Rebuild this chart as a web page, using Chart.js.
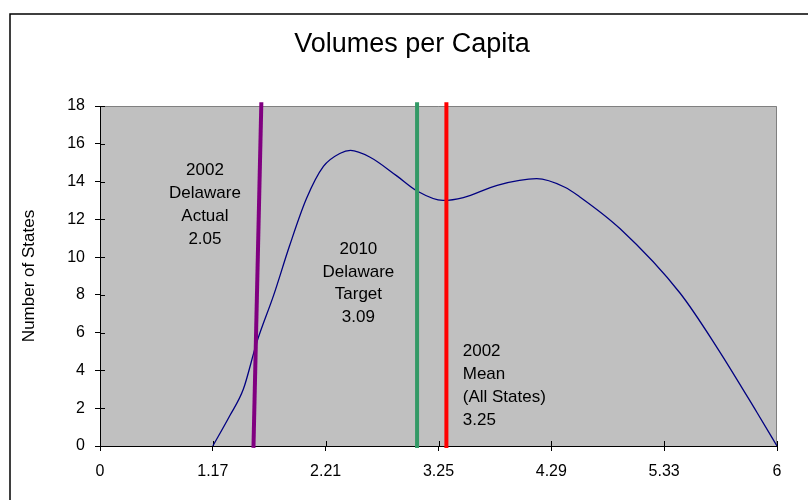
<!DOCTYPE html>
<html>
<head>
<meta charset="utf-8">
<script src="https://cdn.jsdelivr.net/npm/chart.js@4/dist/chart.umd.min.js"></script>
<style>
  body { margin: 0; background: #fff; }
  #wrap { width: 808px; height: 500px; position: relative; }
</style>
</head>
<body>
<div id="wrap"><canvas id="volChart"></canvas></div>
<script>
// x axis: evenly spaced ticks, labelled with the original bin values
const xTickPos = [0, 1, 2, 3, 4, 5, 6];
const xTickLabels = ['0', '1.17', '2.21', '3.25', '4.29', '5.33', '6'];

// distribution curve (number of states)
const curveX = [1.0, 1.15, 1.27, 1.39, 1.54, 1.68, 1.83, 1.98, 2.13, 2.22, 2.39, 2.63, 2.81, 3.04, 3.22, 3.52, 3.87, 4.12, 4.25, 4.61, 5.14, 5.47, 5.82, 6.0];
const curveY = [0, 1.6, 3.0, 5.5, 8.0, 10.6, 13.1, 14.8, 15.5, 15.65, 15.3, 14.3, 13.5, 13.0, 13.15, 13.8, 14.15, 13.7, 13.2, 11.5, 8.1, 5.2, 1.8, 0];

// marker lines (bottom x, top x)
const actualLineX = [1.36, 1.43];
const targetLineX = [2.81, 2.81];
const meanLineX = [3.07, 3.07];
const markerYRange = [-0.1, 18.2];

// text notes next to the marker lines
const notes = [
  { lines: ['2002', 'Delaware', 'Actual', '2.05'], x: 0.93, y: 14.57, align: 'center' },
  { lines: ['2010', 'Delaware', 'Target', '3.09'], x: 2.29, y: 10.42, align: 'center' },
  { lines: ['2002', 'Mean', '(All States)', '3.25'], x: 3.215, y: 4.99, align: 'left' }
];

const FONT = '"Liberation Sans", Arial, sans-serif';
Chart.defaults.font.family = FONT;
Chart.defaults.color = '#000';

function markerData(xs) {
  return [{ x: xs[0], y: markerYRange[0] }, { x: xs[1], y: markerYRange[1] }];
}

// frame, grey plot area, title, inner tick marks and notes
const decor = {
  id: 'decor',
  beforeDraw(chart) {
    const { ctx, chartArea: a } = chart;
    ctx.save();
    ctx.fillStyle = '#fff';
    ctx.fillRect(0, 0, chart.width, chart.height);
    ctx.strokeStyle = '#000';
    ctx.lineWidth = 1.5;
    ctx.strokeRect(10, 14, 900, 600);
    ctx.fillStyle = '#C0C0C0';
    ctx.fillRect(a.left, a.top, a.right - a.left, a.bottom - a.top);
    ctx.strokeStyle = '#808080';
    ctx.lineWidth = 1;
    ctx.beginPath();
    ctx.moveTo(a.left, a.top + 0.5);
    ctx.lineTo(a.right - 0.5, a.top + 0.5);
    ctx.lineTo(a.right - 0.5, a.bottom);
    ctx.stroke();
    ctx.fillStyle = '#000';
    ctx.font = '27px ' + FONT;
    ctx.textAlign = 'center';
    ctx.textBaseline = 'middle';
    ctx.fillText('Volumes per Capita', 412, 45);
    ctx.restore();
  },
  beforeDatasetsDraw(chart) {
    const { ctx, chartArea: a, scales } = chart;
    ctx.save();
    ctx.strokeStyle = '#000';
    ctx.lineWidth = 1;
    ctx.beginPath();
    scales.x.ticks.forEach(t => {
      const px = Math.round(scales.x.getPixelForValue(t.value)) + 0.5;
      ctx.moveTo(px, a.bottom);
      ctx.lineTo(px, a.bottom - 5);
    });
    scales.y.ticks.forEach(t => {
      const py = Math.round(scales.y.getPixelForValue(t.value)) + 0.5;
      ctx.moveTo(a.left, py);
      ctx.lineTo(a.left + 5, py);
    });
    ctx.stroke();
    ctx.restore();
  },
  afterDatasetsDraw(chart) {
    const { ctx, scales } = chart;
    ctx.save();
    ctx.fillStyle = '#000';
    ctx.font = '17px ' + FONT;
    ctx.textBaseline = 'middle';
    notes.forEach(n => {
      ctx.textAlign = n.align;
      const px = scales.x.getPixelForValue(n.x);
      const py = scales.y.getPixelForValue(n.y);
      n.lines.forEach((s, i) => ctx.fillText(s, px, py + i * 22.8));
    });
    ctx.restore();
  }
};

const ctx = document.getElementById('volChart').getContext('2d');
const chart = new Chart(ctx, {
  type: 'line',
  data: {
    datasets: [
      {
        label: '2002 Delaware Actual',
        data: markerData(actualLineX),
        borderColor: '#800080',
        borderWidth: 4,
        pointRadius: 0,
        clip: false
      },
      {
        label: '2010 Delaware Target',
        data: markerData(targetLineX),
        borderColor: '#339966',
        borderWidth: 4,
        pointRadius: 0,
        clip: false
      },
      {
        label: '2002 Mean',
        data: markerData(meanLineX),
        borderColor: '#FF0000',
        borderWidth: 4,
        pointRadius: 0,
        clip: false
      },
      {
        label: 'Number of States',
        data: curveX.map((x, i) => ({ x: x, y: curveY[i] })),
        borderColor: '#000080',
        borderWidth: 1.3,
        pointRadius: 0,
        cubicInterpolationMode: 'monotone'
      }
    ]
  },
  options: {
    responsive: true,
    maintainAspectRatio: false,
    animation: false,
    layout: { padding: { top: 106, right: 31, left: 0, bottom: 0 } },
    plugins: {
      legend: { display: false },
      tooltip: { enabled: false }
    },
    scales: {
      x: {
        type: 'linear',
        min: 0,
        max: 6,
        afterBuildTicks: scale => { scale.ticks = xTickPos.map(v => ({ value: v })); },
        afterFit: scale => { scale.height = 54; },
        ticks: {
          font: { size: 16 },
          padding: 11,
          maxRotation: 0,
          callback: (v, i) => xTickLabels[i]
        },
        grid: { drawOnChartArea: false, tickLength: 5, color: '#000' },
        border: { color: '#000', width: 1 }
      },
      y: {
        min: 0,
        max: 18,
        afterFit: scale => { scale.width = 100; },
        ticks: { stepSize: 2, font: { size: 16 }, padding: 10 },
        grid: { drawOnChartArea: false, tickLength: 5, color: '#000' },
        border: { color: '#000', width: 1 },
        title: {
          display: true,
          text: 'Number of States',
          font: { size: 17 },
          padding: { top: 19, bottom: 0 }
        }
      }
    }
  },
  plugins: [decor]
});
</script>
</body>
</html>
